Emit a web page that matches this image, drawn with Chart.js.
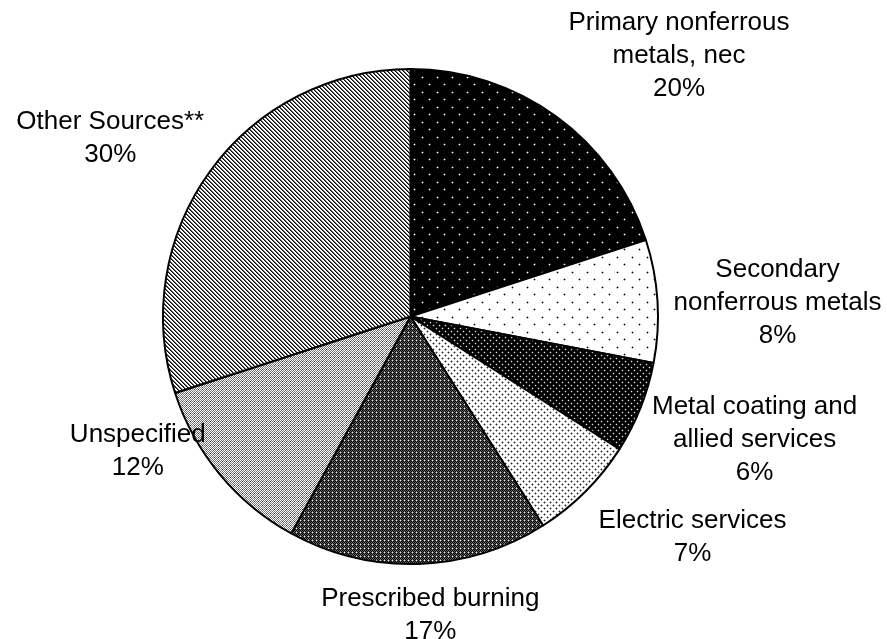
<!DOCTYPE html>
<html>
<head>
<meta charset="utf-8">
<script src="https://cdn.jsdelivr.net/npm/chart.js@4.4.1/dist/chart.umd.min.js"></script>
<style>
	html, body { margin: 0; padding: 0; background: #fff; }
	#wrap { width: 887px; height: 639px; }
</style>
</head>
<body>
<div id="wrap"><canvas id="pie"></canvas></div>
<script>
// slice names (\n = line break in the outside label)
const categories = [
	"Primary nonferrous\nmetals, nec",
	"Secondary\nnonferrous metals",
	"Metal coating and\nallied services",
	"Electric services",
	"Prescribed burning",
	"Unspecified",
	"Other Sources**",
];
// share of total, percent
const shares = [20, 8, 6, 7, 17, 12, 30];
const shareLabels = ["20%", "8%", "6%", "7%", "17%", "12%", "30%"];

const canvas = document.getElementById("pie");
const mainCtx = canvas.getContext("2d");

// small tile -> repeating canvas pattern
function makePattern(w, h, bg, draw) {
	const c = document.createElement("canvas");
	c.width = w;
	c.height = h;
	const g = c.getContext("2d");
	g.fillStyle = bg;
	g.fillRect(0, 0, w, h);
	draw(g);
	return mainCtx.createPattern(c, "repeat");
}
function px(g, x, y, col) {
	g.fillStyle = col;
	g.fillRect(x, y, 1, 1);
}
function dot(g, x, y, col, soft) {
	px(g, x, y, col);
	px(g, x - 1, y, soft);
	px(g, x + 1, y, soft);
	px(g, x, y - 1, soft);
	px(g, x, y + 1, soft);
}

const fills = [
	// black, sparse white dots
	makePattern(15, 15, "#000", (g) => {
		dot(g, 2, 2, "#fff", "#555");
		dot(g, 9, 9, "#fff", "#555");
	}),
	// white, sparse black dots
	makePattern(15, 15, "#fff", (g) => {
		dot(g, 2, 2, "#000", "#aaa");
		dot(g, 9, 9, "#000", "#aaa");
	}),
	// black, dense light dots
	makePattern(6, 6, "#000", (g) => {
		dot(g, 1, 1, "#ddd", "#333");
		dot(g, 4, 4, "#ddd", "#333");
	}),
	// white, dense dark dots
	makePattern(6, 6, "#fff", (g) => {
		dot(g, 1, 1, "#222", "#aaa");
		dot(g, 4, 4, "#222", "#aaa");
	}),
	// dark crosshatch
	makePattern(4, 4, "#000", (g) => {
		px(g, 1, 0, "#666");
		px(g, 3, 0, "#666");
		px(g, 0, 1, "#666");
		px(g, 2, 1, "#444");
		px(g, 1, 2, "#666");
		px(g, 3, 2, "#666");
		px(g, 0, 3, "#777");
		px(g, 2, 3, "#666");
		px(g, 0, 0, "#eee");
	}),
	// light crosshatch
	makePattern(4, 4, "#fff", (g) => {
		px(g, 1, 0, "#777");
		px(g, 3, 0, "#777");
		px(g, 0, 1, "#777");
		px(g, 2, 1, "#333");
		px(g, 1, 2, "#777");
		px(g, 3, 2, "#777");
		px(g, 0, 3, "#777");
		px(g, 2, 3, "#777");
	}),
	// diagonal stripes top-left to bottom-right
	makePattern(4, 4, "#fff", (g) => {
		for (let i = 0; i < 4; i++) {
			px(g, i, i, "#000");
			px(g, (i + 1) % 4, i, "#666");
		}
	}),
];

// draws the text outside every slice, starting from the slice's rim point
const sliceLabels = {
	id: "sliceLabels",
	afterDatasetsDraw(chart, args, opts) {
		const ctx = chart.ctx;
		const arcs = chart.getDatasetMeta(0).data;
		ctx.save();
		ctx.font = opts.font;
		ctx.fillStyle = "#000";
		ctx.textAlign = "center";
		ctx.textBaseline = "middle";
		arcs.forEach((arc, i) => {
			const mid = (arc.startAngle + arc.endAngle) / 2;
			const x0 = arc.x + Math.cos(mid) * arc.outerRadius;
			const y0 = arc.y + Math.sin(mid) * arc.outerRadius;
			const lines = categories[i].split("\n").concat(shareLabels[i]);
			const nudge = opts.nudge[i];
			const top = y0 + nudge[1] - ((lines.length - 1) * opts.lineHeight) / 2;
			lines.forEach((t, k) => {
				ctx.fillText(t, x0 + nudge[0], top + k * opts.lineHeight);
			});
		});
		ctx.restore();
	},
};

new Chart(canvas, {
	type: "pie",
	data: {
		labels: categories,
		datasets: [
			{
				data: shares,
				backgroundColor: fills,
				borderColor: "#000",
				borderWidth: 2,
			},
		],
	},
	options: {
		responsive: true,
		maintainAspectRatio: false,
		animation: false,
		events: [],
		layout: {
			padding: { left: 162, top: 68, right: 228, bottom: 74 },
		},
		plugins: {
			legend: { display: false },
			tooltip: { enabled: false },
			sliceLabels: {
				font: "26px 'Liberation Sans', Arial, sans-serif",
				lineHeight: 33,
				nudge: [
					[123, -60],
					[120, 2],
					[114, 32],
					[107, 46],
					[12, 51],
					[-82, -23],
					[-100, -33],
				],
			},
		},
	},
	plugins: [sliceLabels],
});
</script>
</body>
</html>
